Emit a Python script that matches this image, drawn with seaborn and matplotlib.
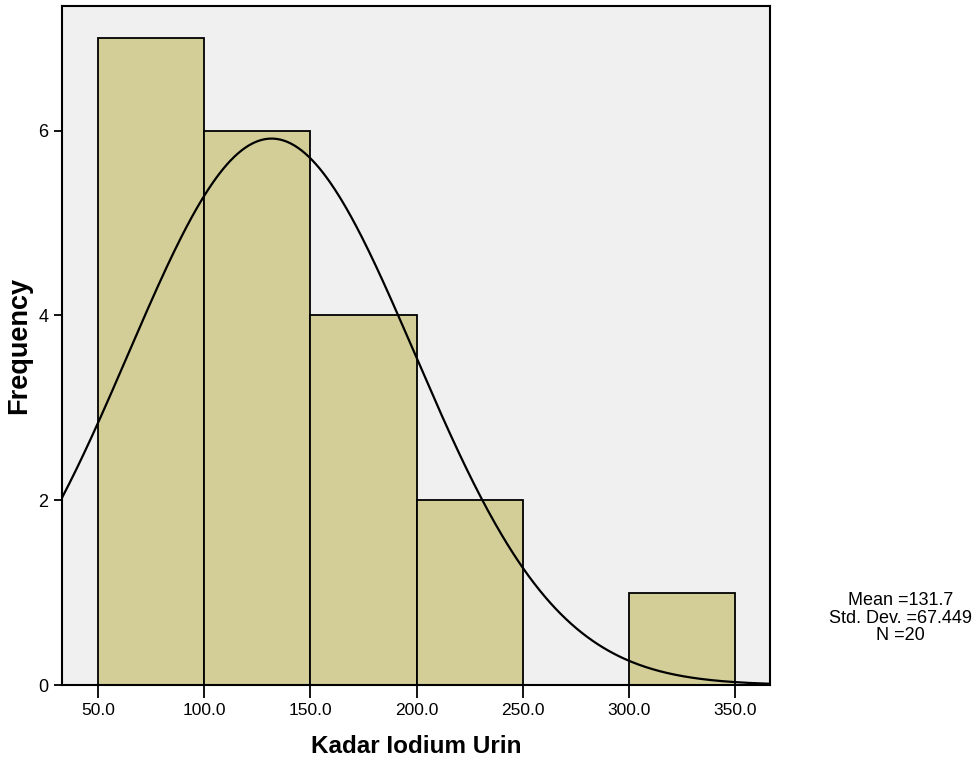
import numpy as np
import pandas as pd
import matplotlib
matplotlib.use("Agg")
import matplotlib.pyplot as plt
import seaborn as sns

# Histogram of urinary iodine (SPSS style)
bin_edges = [50, 100, 150, 200, 250, 300, 350]
bin_counts = [7, 6, 4, 2, 0, 1]
mean_val = 131.7
sd_val = 67.449
n_val = 20
x_ticks = [50, 100, 150, 200, 250, 300, 350]
y_ticks = [0, 2, 4, 6]

sns.set_style("white")
plt.rcParams['font.family'] = ['Liberation Sans', 'DejaVu Sans']
plt.rcParams['text.color'] = 'black'
plt.rcParams['axes.labelcolor'] = 'black'
plt.rcParams['xtick.color'] = 'black'
plt.rcParams['ytick.color'] = 'black'

fig = plt.figure(figsize=(9.8, 7.67), dpi=100)
ax = fig.add_axes([0.0633, 0.1069, 0.7224, 0.8853])
ax.set_facecolor('#F0F0F0')

centers = [(a + b) / 2 for a, b in zip(bin_edges[:-1], bin_edges[1:])]
df = pd.DataFrame({'value': centers, 'count': bin_counts})
sns.histplot(data=df, x='value', weights='count', bins=bin_edges, ax=ax,
             color='#D3CE97', alpha=1.0, edgecolor='black', linewidth=1.3)

# fitted normal curve scaled to counts
width = bin_edges[1] - bin_edges[0]
xs = np.linspace(33, 366.5, 400)
ys = n_val * width / (sd_val * np.sqrt(2 * np.pi)) * np.exp(-0.5 * ((xs - mean_val) / sd_val) ** 2)
sns.lineplot(x=xs, y=ys, ax=ax, color='black', linewidth=1.6)

ax.set_xlim(33, 366.5)
ax.set_ylim(0, 7.35)
ax.set_xticks(x_ticks)
ax.set_xticklabels([f"{v:.1f}" for v in x_ticks])
ax.set_yticks(y_ticks)
ax.tick_params(axis='x', direction='out', length=9, width=1.3, labelsize=12.5, pad=4, bottom=True)
ax.tick_params(axis='y', direction='out', length=6, width=1.3, labelsize=13, pad=4, left=True)
for s in ax.spines.values():
    s.set_linewidth(1.5)
    s.set_color('black')

ax.set_xlabel('Kadar Iodium Urin', fontsize=17.5, fontweight='bold', labelpad=12)
ax.set_ylabel('Frequency', fontsize=19.5, fontweight='bold')
ax.yaxis.set_label_coords(-0.042, 0.5)

fig.text(0.919, 0.194, f"Mean ={mean_val}\nStd. Dev. ={sd_val}\nN ={n_val}",
         ha='center', va='center', fontsize=13, linespacing=1.05)

fig.savefig('out.png', dpi=100)
